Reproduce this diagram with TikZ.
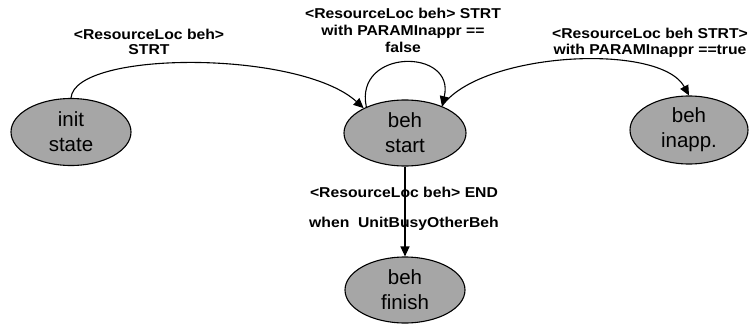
\documentclass[tikz,border=0pt]{standalone}
\usepackage{fontspec}
\setmainfont{Liberation Sans}
\newfontfamily\lblfont[FakeStretch=1.1]{Liberation Sans}
\usetikzlibrary{shapes.geometric,arrows.meta}
\begin{document}
\begin{tikzpicture}[x=1pt,y=-1pt,
  stnode/.style={ellipse, draw=black, line width=1.1pt, fill=black!35,
    minimum width=120pt, minimum height=67pt, inner sep=0pt, align=center,
    font=\fontsize{20.5}{25}\selectfont},
  lbl/.style={align=center, inner sep=0pt,
    font=\lblfont\bfseries\fontsize{14.3}{15.5}\selectfont},
  conn/.style={line width=1.1pt, -{Triangle[length=10pt,width=9pt]}}]
\useasboundingbox (0,0) rectangle (749,324);
\node[stnode] (init) at (71,132) {init\\state};
\node[stnode, minimum width=122pt, minimum height=66pt] (start) at (405,133) {beh\\start};
\node[stnode, minimum width=118pt, minimum height=68pt] (inapp) at (689,130) {beh\\inapp.};
\node[stnode, minimum height=66pt] (finish) at (405,290) {beh\\finish};
\draw[conn] (init.north) .. controls (75,50) and (300,50) .. (start.149);
\draw[conn] (start.146) .. controls (354,48) and (456,48) .. (start.36);
\draw[conn] (start.36) .. controls (480,52) and (660,42) .. (inapp.north);
\draw[conn] (start.south) -- (finish.north);
\node[lbl] (l1) at (149,42) {<ResourceLoc beh>\\STRT};
\node[lbl, font=\lblfont\bfseries\fontsize{14.3}{17}\selectfont] (l2) at (403,30) {<ResourceLoc beh> STRT\\with PARAMInappr ==\\false};
\node[lbl] (l3) at (650,43) {<ResourceLoc beh STRT>\\with PARAMInappr ==true};
\node[lbl] (l4) at (404,209) {<ResourceLoc beh> END\\[14.5pt]when\ \ UnitBusyOtherBeh};
\end{tikzpicture}
\end{document}
